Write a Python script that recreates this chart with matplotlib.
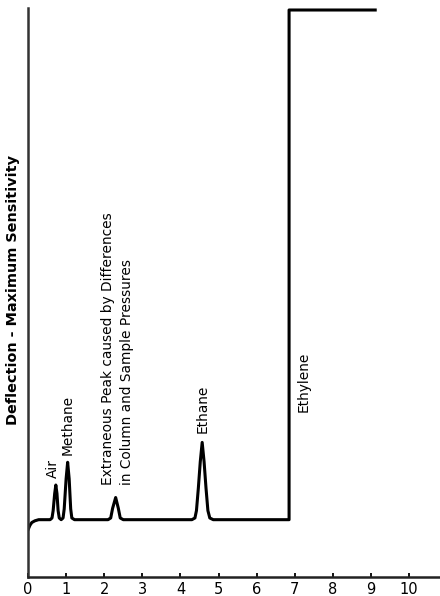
import matplotlib
matplotlib.use("Agg")
import matplotlib.pyplot as plt

# retention time (min) vs deflection
trace_x = [0.00, 0.05, 0.10, 0.18, 0.28, 0.58, 0.63, 0.66, 0.70, 0.73, 0.76, 0.79, 0.82,
           0.87, 0.92, 0.95, 1.00, 1.04, 1.08, 1.12, 1.15, 1.22,
           2.10, 2.17, 2.22, 2.30, 2.37, 2.42, 2.50,
           4.30, 4.38, 4.42, 4.47, 4.52, 4.57, 4.62, 4.67, 4.72, 4.77, 4.86,
           6.85, 6.85, 9.11]
trace_y = [8.2, 9.0, 9.5, 9.8, 10.0, 10.0, 10.3, 11.6, 14.6, 16.1, 14.6, 11.6, 10.3,
           10.0, 10.3, 11.9, 17.2, 20.1, 17.2, 11.9, 10.3, 10.0,
           10.0, 10.3, 12.0, 13.9, 12.0, 10.3, 10.0,
           10.0, 10.3, 11.6, 15.6, 20.2, 23.6, 20.2, 15.6, 11.6, 10.3, 10.0,
           10.0, 99.7, 99.7]

peak_names = ["Air", "Methane",
              "Extraneous Peak caused by Differences\nin Column and Sample Pressures",
              "Ethane", "Ethylene"]
label_x = [0.66, 1.05, 2.36, 4.57, 7.22]
label_y = [17.3, 21.4, 16.1, 25.3, 29.0]

xticks = list(range(0, 11))

fig = plt.figure(figsize=(4.4, 5.96), dpi=100)
ax = fig.add_axes([28 / 440, 19.5 / 596, 412 / 440, 568.2 / 596])

ax.plot(trace_x, trace_y, color="black", lw=2.2, solid_joinstyle="round")

for name, lx, ly in zip(peak_names, label_x, label_y):
    ax.text(lx, ly, name, rotation=90, ha="center", va="bottom",
            fontsize=9.9, multialignment="left", linespacing=1.45)

ax.set_xlim(0, 10.81)
ax.set_ylim(0, 100)
ax.set_xticks(xticks)
ax.set_yticks([])
ax.tick_params(axis="x", direction="in", length=3, width=1.3, labelsize=10.5, pad=4)
for s in ["top", "right"]:
    ax.spines[s].set_visible(False)
ax.spines["left"].set_linewidth(1.8)
ax.spines["left"].set_color("#333333")
ax.spines["bottom"].set_linewidth(1.8)
ax.spines["bottom"].set_color("#222222")

fig.text(13 / 440, 1 - 290 / 596, "Deflection - Maximum Sensitivity",
         rotation=90, ha="center", va="center", fontsize=10.4, fontweight="bold")

fig.savefig("out.png", dpi=100)
